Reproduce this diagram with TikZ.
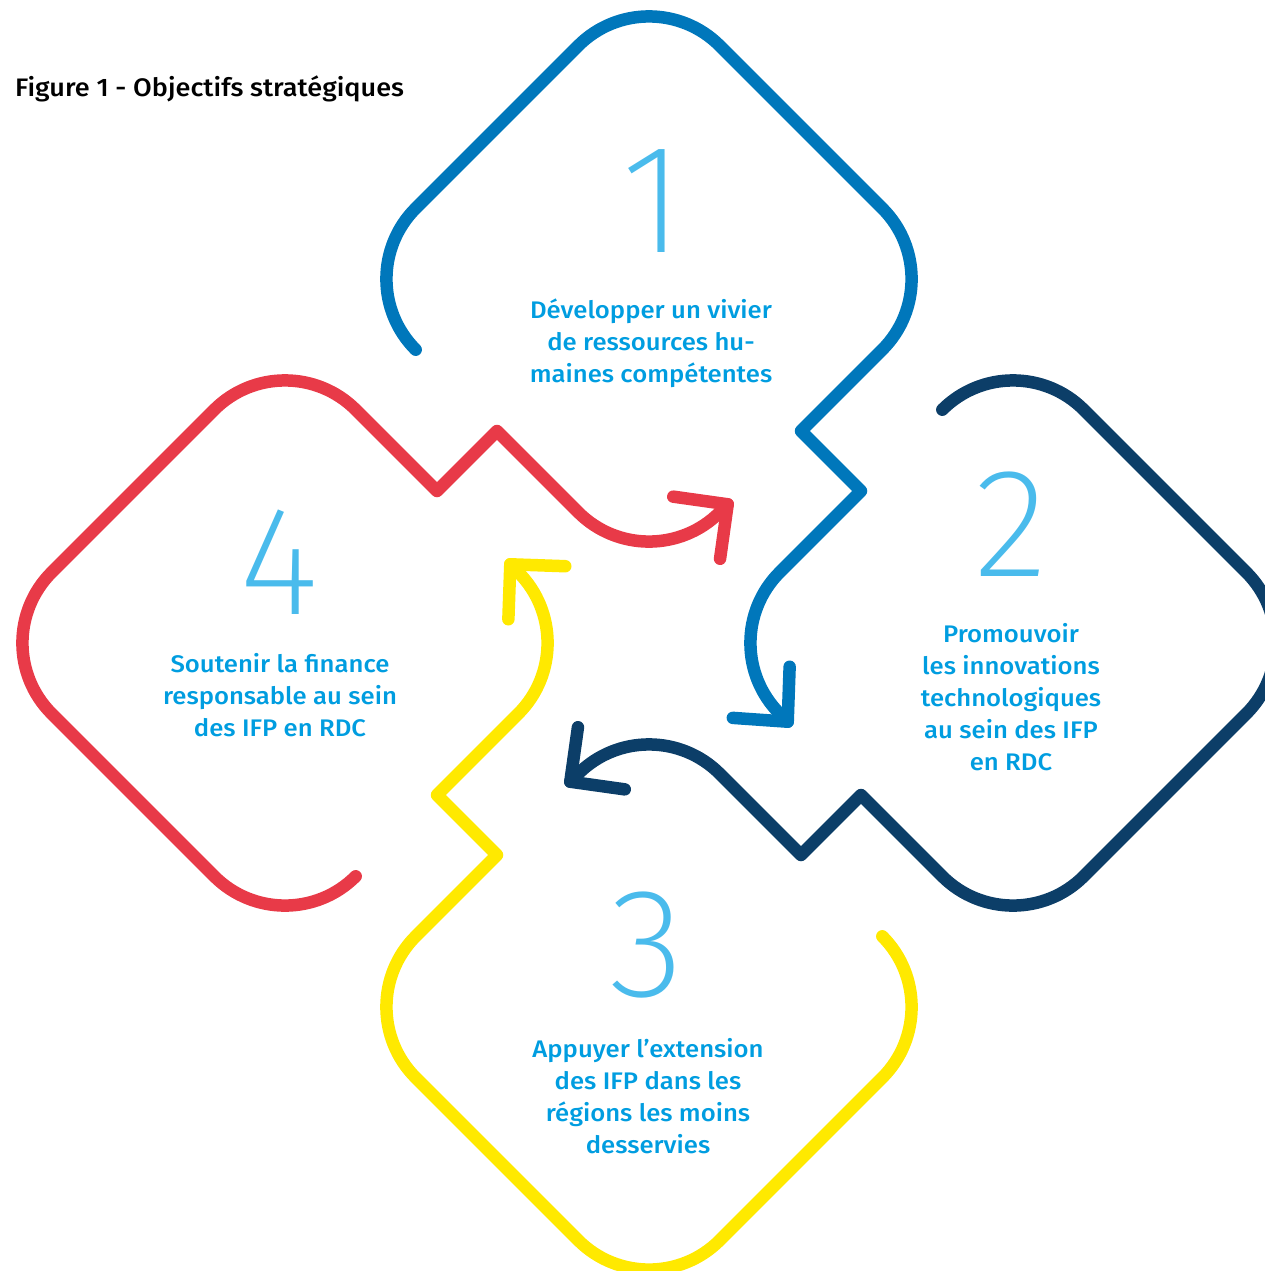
\documentclass[tikz,border=0pt]{standalone}
\usepackage{fontspec}
\setmainfont{Fira Sans Medium}[FakeStretch=1.07]
\newfontfamily\digitfont{Fira Sans ExtraLight}
\usetikzlibrary{calc}
\definecolor{cOne}{RGB}{0,119,187}
\definecolor{cTwo}{RGB}{12,62,104}
\definecolor{cThree}{RGB}{255,233,0}
\definecolor{cFour}{RGB}{232,58,72}
\definecolor{digitblue}{RGB}{74,187,236}
\definecolor{textblue}{RGB}{0,157,224}
\begin{document}
\begin{tikzpicture}[x=1pt,y=-1pt,
  shapeline/.style={line width=12.5pt, line cap=round, line join=round},
  digit/.style={text=digitblue, font=\digitfont\fontsize{155}{155}\selectfont, inner sep=0pt},
  goal/.style={text=textblue, font=\fontsize{24}{32}\selectfont, align=center, inner sep=0pt}]
\useasboundingbox (0,0) rectangle (1265,1271);
\clip (0,0) rectangle (1265,1271);
\def\rD{304}\def\rH{70.71}\def\rM{152}
\coordinate (c1) at (649,279);
\coordinate (c2) at (1013,643);
\coordinate (c3) at (649,1007);
\coordinate (c4) at (285,643);

% shape 1 (blue)
\draw[shapeline, cOne] ($(c1)+(-\rD+\rH,\rH)$) arc[start angle=135,end angle=225,radius=100]
  -- ($(c1)+(-\rH,-\rD+\rH)$) arc[start angle=225,end angle=315,radius=100]
  -- ($(c1)+(\rD-\rH,-\rH)$) arc[start angle=-45,end angle=45,radius=100]
  -- ($(c1)+(\rM,\rM)$) coordinate (z1a)
  -- ($(c2)+(-\rM,-\rM)$) coordinate (z1b)
  -- ($(c2)+(-\rD+\rH,-\rH)$) arc[start angle=225,end angle=135,radius=100]
  -- ++(8,8) coordinate (tip1);
\draw[shapeline, cOne] ($(tip1)+(184:55)$) -- (tip1) -- ($(tip1)+(272:55)$);

% shape 2 (navy)
\draw[shapeline, cTwo] ($(c2)+(-\rH,-\rD+\rH)$) arc[start angle=225,end angle=315,radius=100]
  -- ($(c2)+(\rD-\rH,-\rH)$) arc[start angle=-45,end angle=45,radius=100]
  -- ($(c2)+(\rH,\rD-\rH)$) arc[start angle=45,end angle=135,radius=100]
  -- ($(c2)+(-\rM,\rM)$) coordinate (z2a)
  -- ($(c3)+(\rM,-\rM)$) coordinate (z2b)
  -- ($(c3)+(\rH,-\rD+\rH)$) arc[start angle=315,end angle=225,radius=100]
  -- ++(-8,8) coordinate (tip2);
\draw[shapeline, cTwo] ($(tip2)+(278:55)$) -- (tip2) -- ($(tip2)+(8:55)$);

% shape 3 (yellow)
\draw[shapeline, cThree] ($(c3)+(\rD-\rH,-\rH)$) arc[start angle=-45,end angle=45,radius=100]
  -- ($(c3)+(\rH,\rD-\rH)$) arc[start angle=45,end angle=135,radius=100]
  -- ($(c3)+(-\rD+\rH,\rH)$) arc[start angle=135,end angle=225,radius=100]
  -- ($(c3)+(-\rM,-\rM)$) coordinate (z3a)
  -- ($(c4)+(\rM,\rM)$) coordinate (z3b)
  -- ($(c4)+(\rD-\rH,\rH)$) arc[start angle=45,end angle=-45,radius=100]
  -- ++(-8,-8) coordinate (tip3);
\draw[shapeline, cThree] ($(tip3)+(2:55)$) -- (tip3) -- ($(tip3)+(92:55)$);

% shape 4 (red)
\draw[shapeline, cFour] ($(c4)+(\rH,\rD-\rH)$) arc[start angle=45,end angle=135,radius=100]
  -- ($(c4)+(-\rD+\rH,\rH)$) arc[start angle=135,end angle=225,radius=100]
  -- ($(c4)+(-\rH,-\rD+\rH)$) arc[start angle=225,end angle=315,radius=100]
  -- ($(c4)+(\rM,-\rM)$) coordinate (z4a)
  -- ($(c1)+(-\rM,\rM)$) coordinate (z4b)
  -- ($(c1)+(-\rH,\rD-\rH)$) arc[start angle=135,end angle=45,radius=100]
  -- ++(8,-8) coordinate (tip4);
\draw[shapeline, cFour] ($(tip4)+(188:55)$) -- (tip4) -- ($(tip4)+(98:55)$);

% digits
\node[digit] (d1) at (653,201) {1};
\node[digit] (d2) at (1011,524) {2};
\node[digit] (d3) at (647,945) {3};
\node[digit] (d4) at (279,562) {4};

% labels
\node[goal] (g1) at (651,343) {Développer un vivier\\de ressources hu-\\maines compétentes};
\node[goal] (g2) at (1011,697) {Promouvoir\\les innovations\\technologiques\\au sein des IFP\\en RDC};
\node[goal] (g3) at (648,1096) {Appuyer l’extension\\des IFP dans les\\régions les moins\\desservies};
\node[goal] (g4) at (280,695) {Soutenir la finance\\responsable au sein\\des IFP en RDC};

% title
\node[anchor=base west, inner sep=0pt, font=\fontsize{25.3}{30}\selectfont] (title) at (15,97) {Figure 1 - Objectifs stratégiques};
\end{tikzpicture}
\end{document}
